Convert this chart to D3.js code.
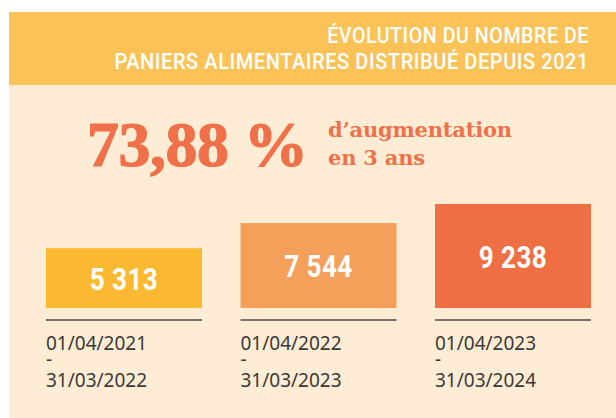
<!DOCTYPE html>
<html>
<head>
<meta charset="utf-8">
<script src="https://cdn.jsdelivr.net/npm/d3@7"></script>
<style>
  body { margin: 0; background: #fff; }
  svg { display: block; }
</style>
</head>
<body>
<svg width="616" height="418"></svg>
<script>
var titleLines = ["ÉVOLUTION DU NOMBRE DE", "PANIERS ALIMENTAIRES DISTRIBUÉ DEPUIS 2021"];
var periodStart = ["01/04/2021", "01/04/2022", "01/04/2023"];
var periodEnd = ["31/03/2022", "31/03/2023", "31/03/2024"];
var paniers = [5313, 7544, 9238];
var hausse = "73,88 %";
var hausseTexte = ["d\u2019augmentation", "en 3 ans"];

var barColors = ["#fbb932", "#f4a05a", "#ef6f45"];

var svg = d3.select("svg");

// squeeze a text horizontally around its anchor (no condensed font installed)
function condense(sel, ax, ay, k) {
    sel.attr("transform", "translate(" + ax + "," + ay + ") scale(" + k + ",1)")
        .attr("x", 0).attr("y", 0);
}

// fonds
svg.append("rect").attr("x", 9).attr("y", 12).attr("width", 607).attr("height", 73).attr("fill", "#fbc257");
svg.append("rect").attr("x", 9).attr("y", 85).attr("width", 607).attr("height", 333).attr("fill", "#feedd4");

// titre
var titleW = [262, 475];
svg.selectAll(".title").data(titleLines).enter().append("text")
    .attr("class", "title")
    .attr("text-anchor", "end")
    .attr("fill", "#fff")
    .style("font-family", "Roboto, sans-serif")
    .style("font-weight", 500)
    .style("font-size", "21.5px")
    .style("letter-spacing", "0.6px")
    .text(function(d) { return d; })
    .each(function(d, i) {
        var w = this.getComputedTextLength();
        condense(d3.select(this), 589, 43 + i * 26, titleW[i] / w);
    });

// chiffre clé
svg.append("text")
    .attr("x", 87).attr("y", 166)
    .attr("fill", "#ef7049")
    .attr("stroke", "#ef7049")
    .attr("stroke-width", 1.2)
    .style("font-family", "'Liberation Serif', serif")
    .style("font-weight", "bold")
    .style("font-size", "64px")
    .style("letter-spacing", "-0.5px")
    .text(hausse);

svg.selectAll(".sub").data(hausseTexte).enter().append("text")
    .attr("class", "sub")
    .attr("x", 328)
    .attr("y", function(d, i) { return 137 + i * 28; })
    .attr("fill", "#ef7049")
    .style("font-family", "'DejaVu Serif', serif")
    .style("font-weight", "bold")
    .style("font-size", "21px")
    .style("letter-spacing", "-0.2px")
    .text(function(d) { return d; });

// barres
var x = d3.scaleBand()
    .domain(periodStart)
    .range([46, 591])
    .paddingInner(0.198)
    .paddingOuter(0);

var y = d3.scaleLinear()
    .domain([0, d3.max(paniers)])
    .range([308, 204]);

var fmt = function(v) { return d3.format(",")(v).replace(",", " "); };

var g = svg.selectAll(".bar").data(paniers).enter().append("g").attr("class", "bar");

g.append("rect")
    .attr("x", function(d, i) { return x(periodStart[i]); })
    .attr("y", function(d) { return y(d); })
    .attr("width", x.bandwidth())
    .attr("height", function(d) { return y(0) - y(d); })
    .attr("fill", function(d, i) { return barColors[i]; });

g.append("text")
    .attr("text-anchor", "middle")
    .attr("fill", "#fff")
    .style("font-family", "Roboto, sans-serif")
    .style("font-weight", "bold")
    .style("font-size", "31px")
    .style("letter-spacing", "0.5px")
    .text(function(d) { return fmt(d); })
    .each(function(d, i) {
        condense(d3.select(this), x(periodStart[i]) + x.bandwidth() / 2, (y(d) + y(0)) / 2 + 11.5, 0.84);
    });

g.append("line")
    .attr("x1", function(d, i) { return x(periodStart[i]); })
    .attr("x2", function(d, i) { return x(periodStart[i]) + x.bandwidth(); })
    .attr("y1", 320).attr("y2", 320)
    .attr("stroke", "#4d4b4b")
    .attr("stroke-width", 1.5);

var rows = [
    function(d, i) { return periodStart[i]; },
    function() { return "-"; },
    function(d, i) { return periodEnd[i]; }
];
var rowY = [350, 366, 387];

rows.forEach(function(f, r) {
    g.append("text")
        .attr("x", function(d, i) { return x(periodStart[i]); })
        .attr("y", rowY[r])
        .attr("fill", "#3b3838")
        .style("font-family", "'Noto Sans', 'Open Sans', sans-serif")
        .style("font-size", "19px")
        .text(f);
});
</script>
</body>
</html>
